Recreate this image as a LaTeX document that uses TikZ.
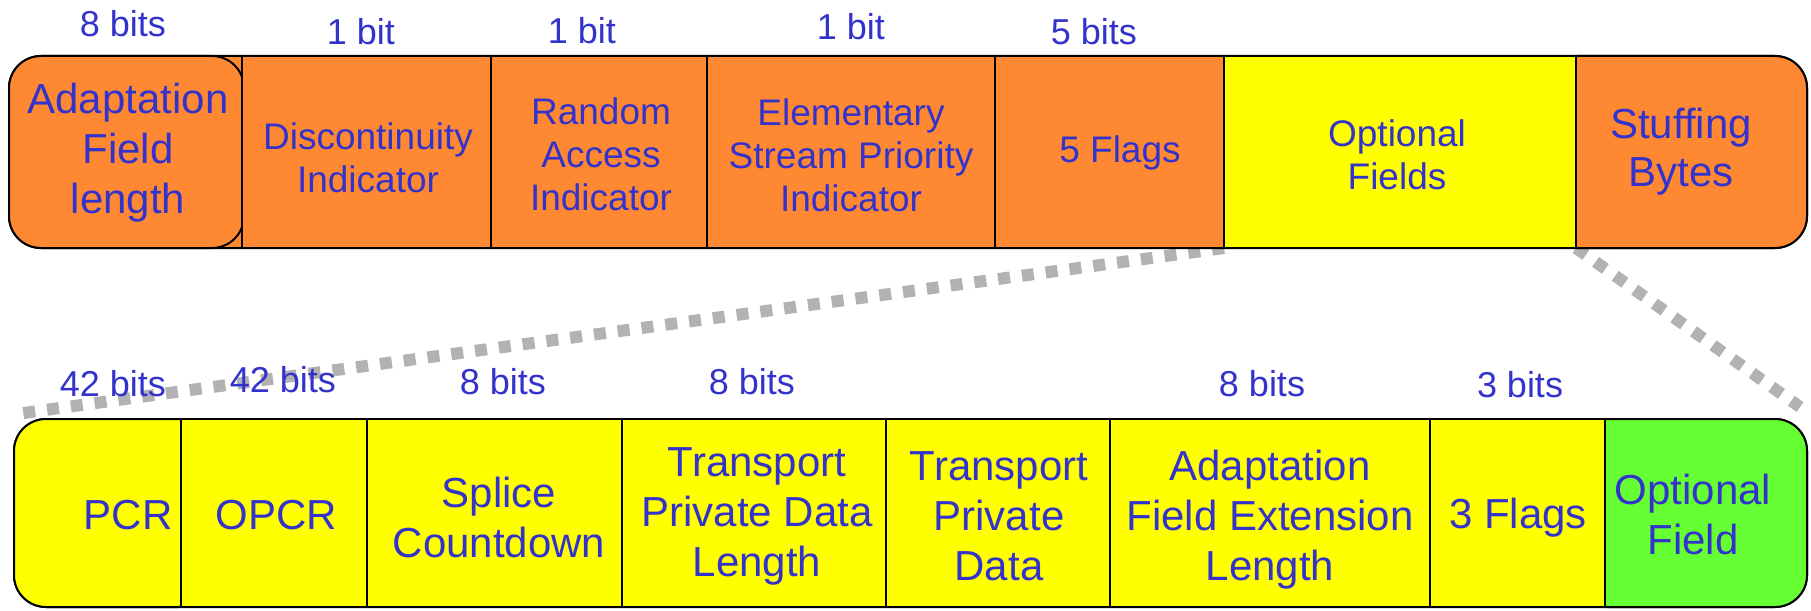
\documentclass[tikz,border=0pt]{standalone}
\usepackage{fontspec}
\setmainfont{Liberation Sans}
\pgfdeclarelayer{background}
\pgfsetlayers{background,main}
\definecolor{orng}{RGB}{255,136,51}
\definecolor{ylw}{RGB}{255,255,0}
\definecolor{grn}{RGB}{102,255,51}
\definecolor{tblue}{RGB}{51,51,204}
\definecolor{dotgray}{RGB}{178,178,178}
\begin{document}
\begin{tikzpicture}[x=1pt,y=-1pt,
  fld/.style={draw=black, line width=2pt, inner sep=0pt, outer sep=0pt, anchor=north west},
  toph/.style={fld, minimum height=192pt},
  both/.style={fld, minimum height=188pt},
  rnd/.style={rounded corners=32pt},
  lbl/.style={font=\fontsize{36}{43}\selectfont, text=tblue, inner sep=0pt},
  tsm/.style={font=\fontsize{37}{43}\selectfont, text=tblue, align=center, inner sep=0pt},
  tbig/.style={font=\fontsize{42}{50}\selectfont, text=tblue, align=center, inner sep=0pt},
  zoomline/.style={draw=dotgray, line width=12pt, dash pattern=on 12pt off 12pt}]
\useasboundingbox (0,0) rectangle (1811,610);

% ---- top row ----
\node[toph, rnd, fill=orng, minimum width=1798pt] (toprow) at (9,56) {};
\node[toph, rnd, fill=orng, minimum width=235pt] (adapt) at (9,56) {};
\node[toph, fill=orng, minimum width=249pt] (disc) at (242,56) {};
\node[toph, fill=orng, minimum width=216pt] (rand) at (491,56) {};
\node[toph, fill=orng, minimum width=288pt] (elem) at (707,56) {};
\node[toph, fill=orng, minimum width=229pt] (flg5) at (995,56) {};
\node[toph, rnd, fill=orng, minimum width=261pt] (stuff) at (1546,56) {};
\node[toph, fill=ylw, minimum width=352pt] (optf) at (1224,56) {};

% ---- bottom row ----
\node[both, rnd, fill=ylw, minimum width=1793pt] (botrow) at (14,419) {};
\node[both, rnd, fill=ylw, minimum width=196pt] (pcr) at (14,419) {};
\node[both, fill=ylw, minimum width=186pt] (opcr) at (181,419) {};
\node[both, fill=ylw, minimum width=255pt] (splice) at (367,419) {};
\node[both, fill=ylw, minimum width=264pt] (tpdl) at (622,419) {};
\node[both, fill=ylw, minimum width=224pt] (tpd) at (886,419) {};
\node[both, fill=ylw, minimum width=320pt] (afel) at (1110,419) {};
\node[both, rnd, fill=grn, minimum width=232pt] (optfld) at (1575,419) {};
\node[both, fill=ylw, minimum width=175pt] (flg3) at (1430,419) {};

% ---- zoom connectors ----
\coordinate (zl) at (16,414);
\coordinate (zr) at (1800,407);
\begin{pgfonlayer}{background}
\draw[zoomline] (optf.south west) -- (zl);
\draw[zoomline] (optf.south east) -- (zr);
\end{pgfonlayer}

% ---- top texts ----
\node[tbig] (tadapt) at (128,153) {Adaptation\\Field\\length};
\node[tsm] (tdisc) at (368,158) {Discontinuity\\Indicator};
\node[tsm] (trand) at (601,154) {Random\\Access\\Indicator};
\node[tsm] (telem) at (851,155) {Elementary\\Stream Priority\\Indicator};
\node[tsm] (tflg5) at (1120,153) {5 Flags};
\node[tsm] (toptf) at (1397,155) {Optional\\Fields};
\node[tbig, font=\fontsize{42}{48}\selectfont] (tstuff) at (1681,152) {Stuffing\\Bytes};

% ---- bottom texts ----
\node[tbig] (tpcr) at (128,515) {PCR};
\node[tbig] (topcr) at (276,515) {OPCR};
\node[tbig] (tsplice) at (499,517) {Splice\\Countdown};
\node[tbig] (ttpdl) at (757,516) {Transport\\Private Data\\Length};
\node[tbig] (ttpd) at (999,516) {Transport\\Private\\Data};
\node[tbig] (tafel) at (1270,520) {Adaptation\\Field Extension\\Length};
\node[tbig] (tflg3) at (1518,518) {3 Flags};
\node[tbig] (toptfld) at (1693,514) {Optional\\Field};

% ---- bit labels ----
\node[lbl] (l1) at (123,24) {8 bits};
\node[lbl] (l2) at (361,32) {1 bit};
\node[lbl] (l3) at (582,31) {1 bit};
\node[lbl] (l4) at (851,27) {1 bit};
\node[lbl] (l5) at (1094,32) {5 bits};
\node[lbl] (l6) at (113,384) {42 bits};
\node[lbl] (l7) at (283,380) {42 bits};
\node[lbl] (l8) at (503,382) {8 bits};
\node[lbl] (l9) at (752,382) {8 bits};
\node[lbl] (l10) at (1262,384) {8 bits};
\node[lbl] (l11) at (1520,385) {3 bits};
\end{tikzpicture}
\end{document}
